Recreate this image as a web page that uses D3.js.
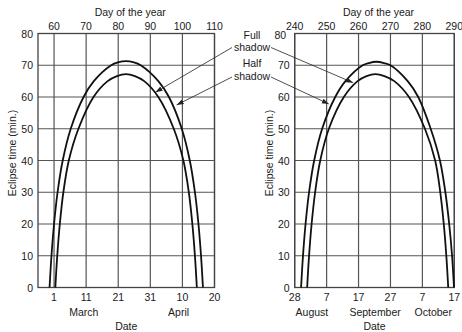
<!DOCTYPE html>
<html>
<head>
<meta charset="utf-8">
<script src="https://cdn.jsdelivr.net/npm/d3@7"></script>
<style>
  body { margin: 0; background: #fff; }
  text { font-family: "Liberation Sans", Arial, sans-serif; font-size: 10.5px; fill: #1a1a1a; }
</style>
</head>
<body>
<div id="container"></div>
<script>
// eclipse season data: [day of year, minutes]
const eclipseTicks = [0, 10, 20, 30, 40, 50, 60, 70, 80];

const springDays = [60, 70, 80, 90, 100, 110];
const springDates = ["1", "11", "21", "31", "10", "20"];
const springMonths = [["March", 69.3], ["April", 98.8]];
const springHalf = [[58.6,0],[59.2,10],[60.0,20],[61.1,30],[62.7,40],[65.2,50],[69.2,60],[72.4,65],[77.8,70],[79.9,70.9],[82.4,71.3],
                    [84.9,70.9],[87.0,70],[92.5,65],[95.8,60],[99.8,50],[102.3,40],[103.9,30],[105.0,20],[105.8,10],[106.4,0]];
const springFull = [[60.4,0],[61.0,10],[61.8,20],[62.9,30],[64.6,40],[67.6,50],[72.3,60],[76.7,65],[79.6,66.6],[82.4,67.2],
                    [85.2,66.6],[88.1,65],[92.5,60],[97.3,50],[100.3,40],[102.0,30],[103.1,20],[103.9,10],[104.5,0]];

const autumnDays = [240, 250, 260, 270, 280, 290];
const autumnDates = ["28", "7", "17", "27", "7", "17"];
const autumnMonths = [["August", 245.4], ["September", 265.2], ["October", 283.4]];
const autumnHalf = [[242.0,0],[242.6,10],[243.4,20],[244.5,30],[246.1,40],[248.6,50],[252.7,60],[255.9,65],[261.3,70],[263.2,70.7],[265.6,71.1],
                    [268.0,70.7],[270.0,70],[275.4,65],[278.7,60],[282.6,50],[285.5,40],[287.2,30],[288.4,20],[289.3,10],[289.9,0]];
const autumnFull = [[243.9,0],[244.5,10],[245.3,20],[246.4,30],[248.0,40],[250.7,50],[255.4,60],[259.7,65],[262.5,66.6],[265.3,67.2],
                    [268.1,66.6],[271.2,65],[275.8,60],[280.8,50],[284.0,40],[285.6,30],[286.7,20],[287.5,10],[288.1,0]];

// where the arrows point: [day, minutes]
const springPointers = [[91.6, 61.5], [98.2, 57.5]];
const autumnPointers = [[258.3, 64.5], [250.7, 57.8]];

const width = 462, height = 332;
const svg = d3.select("#container")
  .append("svg")
    .attr("width", width)
    .attr("height", height);

const y = d3.scaleLinear().domain([0, 80]).range([287.5, 33.5]);

svg.append("defs").append("marker")
    .attr("id", "head")
    .attr("viewBox", "0 0 10 10")
    .attr("refX", 10).attr("refY", 5)
    .attr("markerWidth", 7).attr("markerHeight", 7)
    .attr("markerUnits", "userSpaceOnUse")
    .attr("orient", "auto")
  .append("path")
    .attr("d", "M0,1.5L10,5L0,8.5Z")
    .attr("fill", "#222");

function panel(opt) {
  const x = d3.scaleLinear().domain(opt.domain).range(opt.range);
  const g = svg.append("g");
  const x0 = opt.range[0], x1 = opt.range[1];

  // grid
  g.append("g")
      .attr("stroke", "#555")
      .attr("stroke-width", 1.2)
    .selectAll("line")
    .data(opt.days)
    .join("line")
      .attr("x1", d => x(d)).attr("x2", d => x(d))
      .attr("y1", y(0)).attr("y2", y(80));
  g.append("g")
      .attr("stroke", "#555")
      .attr("stroke-width", 1.2)
    .selectAll("line")
    .data(eclipseTicks)
    .join("line")
      .attr("x1", x0).attr("x2", x1)
      .attr("y1", d => y(d)).attr("y2", d => y(d));
  g.append("rect")
      .attr("x", x0).attr("y", y(80))
      .attr("width", x1 - x0).attr("height", y(0) - y(80))
      .attr("fill", "none")
      .attr("stroke", "#444")
      .attr("stroke-width", 1.3);

  // y tick labels (the top one is nudged when it crowds the top axis)
  g.append("g")
    .selectAll("text")
    .data(eclipseTicks)
    .join("text")
      .attr("x", d => x0 - 5 - (d == 80 ? opt.topNudge : 0))
      .attr("y", d => y(d) + 4 + (d == 80 ? opt.topNudge / 3 : 0))
      .attr("text-anchor", "end")
      .text(d => d);

  // top: day of the year
  g.append("g")
    .selectAll("text")
    .data(opt.days)
    .join("text")
      .attr("x", d => x(d))
      .attr("y", 29.5)
      .attr("text-anchor", "middle")
      .text(d => d);
  g.append("text")
      .attr("x", (x0 + x1) / 2 + 4)
      .attr("y", 16)
      .attr("text-anchor", "middle")
      .text("Day of the year");

  // bottom: date
  g.append("g")
    .selectAll("text")
    .data(opt.days)
    .join("text")
      .attr("x", d => x(d))
      .attr("y", 301)
      .attr("text-anchor", "middle")
      .text((d, i) => opt.dates[i]);
  g.append("g")
    .selectAll("text")
    .data(opt.months)
    .join("text")
      .attr("x", d => x(d[1]))
      .attr("y", 316)
      .attr("text-anchor", "middle")
      .text(d => d[0]);
  g.append("text")
      .attr("x", (x0 + x1) / 2)
      .attr("y", 330)
      .attr("text-anchor", "middle")
      .text("Date");

  g.append("text")
      .attr("transform", "translate(" + opt.labelX + ",153) rotate(-90)")
      .attr("text-anchor", "middle")
      .text("Eclipse time (min.)");

  // curves
  const line = d3.line()
      .x(d => x(d[0]))
      .y(d => y(d[1]))
      .curve(d3.curveCatmullRom.alpha(0.5));
  g.append("g")
      .attr("fill", "none")
      .attr("stroke", "#111")
      .attr("stroke-width", 1.8)
    .selectAll("path")
    .data([opt.half, opt.full])
    .join("path")
      .attr("d", line);

  // arrows from the labels
  g.append("g")
      .attr("stroke", "#222")
      .attr("stroke-width", 0.8)
    .selectAll("line")
    .data(opt.pointers)
    .join("line")
      .attr("x1", opt.arrowX)
      .attr("y1", (d, i) => i == 0 ? 47.5 : 77)
      .attr("x2", d => x(d[0]))
      .attr("y2", d => y(d[1]))
      .attr("marker-end", "url(#head)");
}

panel({domain: [55, 110], range: [38, 214.5], days: springDays, dates: springDates, months: springMonths,
       half: springHalf, full: springFull, pointers: springPointers, arrowX: 232, labelX: 16, topNudge: 0});
panel({domain: [240, 290], range: [294.7, 454.3], days: autumnDays, dates: autumnDates, months: autumnMonths,
       half: autumnHalf, full: autumnFull, pointers: autumnPointers, arrowX: 271, labelX: 272.5, topNudge: 3.5});

// shared labels between the panels
svg.append("g")
  .selectAll("text")
  .data([["Full", 38.5], ["shadow", 50.5], ["Half", 67], ["shadow", 79.5]])
  .join("text")
    .attr("x", 252)
    .attr("y", d => d[1])
    .attr("text-anchor", "middle")
    .text(d => d[0]);
</script>
</body>
</html>
